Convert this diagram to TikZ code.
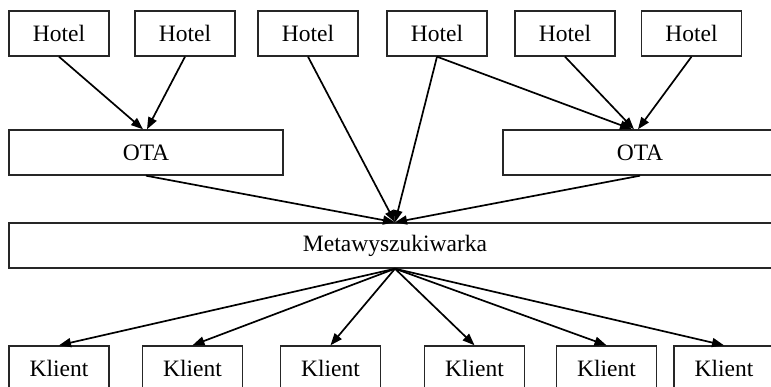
\documentclass[tikz,border=0pt]{standalone}
\usepackage{fontspec}
\setmainfont{Liberation Serif}
\usetikzlibrary{arrows.meta}
\begin{document}
\begin{tikzpicture}[x=1pt,y=-1pt,
  box/.style={draw=black!85, line width=1.4pt, inner sep=0pt, minimum height=45pt,
    font=\fontsize{23.5}{28}\selectfont},
  small/.style={box, minimum width=100pt},
  link/.style={line width=1.7pt, -{Triangle[length=12pt,width=9pt]}}]
\clip (0,0) rectangle (771,387);
\fill[white] (0,0) rectangle (771,387);
% hotels
\node[small] (h1) at (59,33.5) {Hotel};
\node[small] (h2) at (185,33.5) {Hotel};
\node[small] (h3) at (308,33.5) {Hotel};
\node[small] (h4) at (437,33.5) {Hotel};
\node[small] (h5) at (565,33.5) {Hotel};
\node[small] (h6) at (691.5,33.5) {Hotel};
% agencies
\node[box, minimum width=274pt] (ota1) at (146,152.5) {OTA};
\node[box, minimum width=274pt] (ota2) at (640,152.5) {OTA};
% meta search engine
\node[box, minimum width=772pt] (meta) at (395,245.5) {Metawyszukiwarka};
% clients
\node[small] (k1) at (59,368.5) {Klient};
\node[small] (k2) at (192.5,368.5) {Klient};
\node[small] (k3) at (330.5,368.5) {Klient};
\node[small] (k4) at (474.5,368.5) {Klient};
\node[small] (k5) at (606.5,368.5) {Klient};
\node[small] (k6) at (724,368.5) {Klient};
% connectors
\draw[link] (h1.south) -- ([xshift=-3pt]ota1.north);
\draw[link] (h2.south) -- ([xshift=1pt]ota1.north);
\draw[link] (h4.south) -- ([xshift=-8pt]ota2.north);
\draw[link] (h5.south) -- ([xshift=-6pt]ota2.north);
\draw[link] (h6.south) -- ([xshift=-2pt]ota2.north);
\draw[link] (h3.south) -- (meta.north);
\draw[link] (h4.south) -- (meta.north);
\draw[link] (ota1.south) -- (meta.north);
\draw[link] (ota2.south) -- (meta.north);
\foreach \k in {k1,k2,k3,k4,k5,k6}
  \draw[link] (meta.south) -- (\k.north);
\end{tikzpicture}
\end{document}
